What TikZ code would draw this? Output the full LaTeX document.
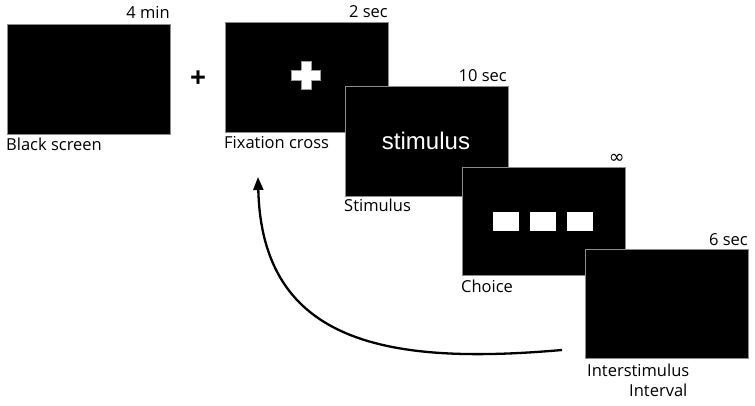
\documentclass[tikz,border=0pt]{standalone}
\usepackage{fontspec}
\setmainfont{Open Sans}
\newfontfamily\arialfont{Liberation Sans}
\newfontfamily\symfont{DejaVu Sans}
\usetikzlibrary{arrows.meta}
\tikzset{
  screen/.style={draw=black!45, line width=0.8pt, fill=black, minimum width=163pt, minimum height=110pt, inner sep=0pt, anchor=north west},
  lbl/.style={font=\fontsize{16.5}{18}\selectfont, inner sep=0pt},
  wbox/.style={fill=white, minimum width=26pt, minimum height=19pt, inner sep=0pt},
}
\begin{document}
\begin{tikzpicture}[x=1pt,y=-1pt]
\useasboundingbox (0,0) rectangle (755,406);
% screens
\node[screen] (black) at (7,24) {};
\node[screen] (fix) at (225,22) {};
\node[screen] (stim) at (345,86) {};
\node[screen, minimum height=108pt] (choice) at (462,167) {};
\node[screen, minimum height=109pt] (isi) at (585,249) {};
% contents
\node[fill=white, draw=black!40, line width=0.6pt, inner sep=0pt, minimum width=29pt, minimum height=10pt] (crossh) at (306,75.5) {};
\node[fill=white, inner sep=0pt, minimum width=10pt, minimum height=28pt] (crossv) at (306,75.5) {};
\draw[black!40, line width=0.6pt] (301,61.5) -- (311,61.5) -- (311,70.5) (301,61.5) -- (301,70.5) (301,80.5) -- (301,89.5) -- (311,89.5) -- (311,80.5);
\node[text=white, font=\arialfont\fontsize{24}{26}\selectfont] (stimtxt) at (426,141) {stimulus};
\node[wbox] (b1) at (506,221.5) {};
\node[wbox] (b2) at (543,221.5) {};
\node[wbox] (b3) at (580,221.5) {};
% plus
\node[font=\fontsize{28}{30}\selectfont\bfseries] (plus) at (198,79) {+};
% durations
\node[lbl, anchor=base east] (t1) at (170,19) {4 min};
\node[lbl, anchor=base east] (t2) at (388,18) {2 sec};
\node[lbl, anchor=base east] (t3) at (507,82) {10 sec};
\node[font=\symfont\fontsize{19}{20}\selectfont, anchor=base east, inner sep=0pt] (t4) at (625,164) {∞};
\node[lbl, anchor=base east] (t5) at (748,246) {6 sec};
% names
\node[lbl, anchor=base west] (n1) at (6,151) {Black screen};
\node[lbl, anchor=base west] (n2) at (224,149) {Fixation cross};
\node[lbl, anchor=base west] (n3) at (344,212) {Stimulus};
\node[lbl, anchor=base west] (n4) at (461,292) {Choice};
\node[lbl, anchor=base west] (n5) at (587,376) {Interstimulus};
\node[lbl, anchor=base west] (n6) at (629,396) {Interval};
% arrow
\coordinate (from) at (562,350);
\coordinate (to) at (258,177);
\draw[line width=2.3pt, -{Triangle[length=13pt, width=10pt]}] (from) .. controls (390,365) and (262,345) .. (to);
\end{tikzpicture}
\end{document}
